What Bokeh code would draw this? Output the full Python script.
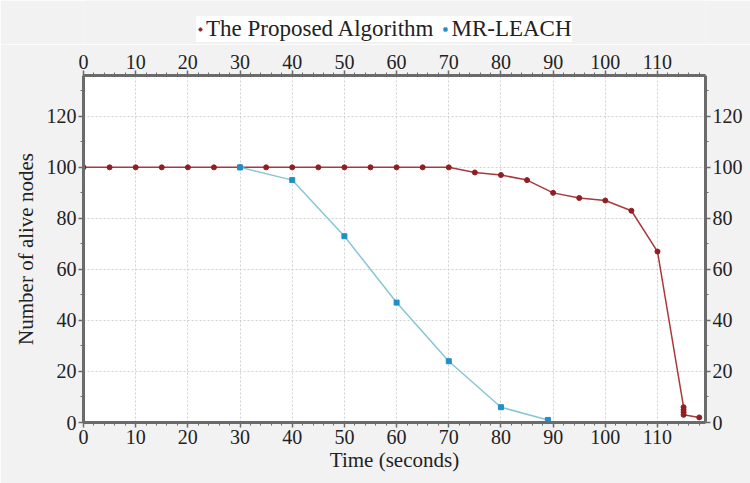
from bokeh.plotting import figure
from bokeh.layouts import column
from bokeh.models import (LinearAxis, Range1d, Legend, LegendItem, SingleIntervalTicker)
from bokeh.embed import file_html
from bokeh.resources import INLINE

# Data
prop_x = [0, 5, 10, 15, 20, 25, 30, 35, 40, 45, 50, 55, 60, 65, 70, 75, 80, 85, 90, 95,
          100, 105, 110, 115, 115, 115, 115, 118]
prop_y = [100, 100, 100, 100, 100, 100, 100, 100, 100, 100, 100, 100, 100, 100, 100, 98, 97, 95, 90, 88,
          87, 83, 67, 6, 5, 4, 3, 2]
mr_x = [30, 40, 50, 60, 70, 80, 89]
mr_y = [100, 95, 73, 47, 24, 6, 1]
series_names = ["The Proposed Algorithm", "MR-LEACH"]

FONT = "Liberation Serif"
RED = "#8f1f22"
RED_LINE = "#a8393c"
BLUE = "#1f8fc8"
BLUE_LINE = "#86c6d6"
AX = "#6b6b6b"
BG = "#f2f2f2"

# ---- legend strip on top ----
lg = figure(width=750, height=44, output_backend="svg", toolbar_location=None,
            x_range=Range1d(0, 1), y_range=Range1d(0, 1),
            x_axis_type=None, y_axis_type=None,
            min_border=0, background_fill_color=BG, border_fill_color=BG,
            outline_line_color=None)
lg.grid.visible = False
d1 = lg.scatter(x=[-5], y=[-5], marker="circle", size=5, color=RED)
d2 = lg.scatter(x=[-5], y=[-5], marker="square", size=5, color=BLUE)
legend = Legend(items=[LegendItem(label=series_names[0], renderers=[d1]),
                       LegendItem(label=series_names[1], renderers=[d2])],
                orientation="horizontal", label_text_font=FONT,
                label_text_font_size="23px", label_text_color="#222222",
                glyph_width=8, glyph_height=18, label_standoff=2, spacing=8, padding=4,
                background_fill_color="white", border_line_color=None,
                margin=0, location=(113, 2))
lg.add_layout(legend, "center")

# ---- main plot ----
p = figure(width=750, height=439, output_backend="svg", toolbar_location=None,
           x_range=Range1d(0, 119.2), y_range=Range1d(0, 136),
           min_border_left=83, min_border_right=45, min_border_top=31, min_border_bottom=61,
           background_fill_color="white", border_fill_color=BG,
           outline_line_color=None)

p.line(prop_x, prop_y, line_color=RED_LINE, line_width=1.5)
p.scatter(prop_x, prop_y, marker="circle", size=5, color=RED)
p.line(mr_x, mr_y, line_color=BLUE_LINE, line_width=1.5)
p.scatter(mr_x, mr_y, marker="square", size=5, color=BLUE)

def style_axis(ax, ticks, minor):
    ax.ticker = SingleIntervalTicker(interval=ticks, num_minor_ticks=minor)
    ax.axis_line_color = AX
    ax.axis_line_width = 3
    ax.major_tick_line_color = AX
    ax.minor_tick_line_color = AX
    ax.major_tick_line_width = 1.5
    ax.major_tick_out = 5
    ax.major_tick_in = 0
    ax.minor_tick_out = 3
    ax.minor_tick_in = 0
    ax.major_label_standoff = 2
    ax.major_label_text_font = FONT
    ax.major_label_text_font_size = "20px"
    ax.major_label_text_color = "#222222"
    ax.axis_label_text_font = FONT
    ax.axis_label_text_font_size = "21px"
    ax.axis_label_text_font_style = "normal"
    ax.axis_label_text_color = "#222222"

style_axis(p.xaxis[0], 10, 5)
style_axis(p.yaxis[0], 20, 2)
p.xaxis[0].axis_label = "Time (seconds)"
p.xaxis[0].axis_label_standoff = 1
p.yaxis[0].axis_label = "Number of alive nodes"
p.yaxis[0].axis_label_standoff = 6

top = LinearAxis()
style_axis(top, 10, 5)
p.add_layout(top, "above")
right = LinearAxis()
style_axis(right, 20, 2)
p.add_layout(right, "right")

p.xgrid.ticker = SingleIntervalTicker(interval=10)
p.ygrid.ticker = SingleIntervalTicker(interval=20)
for g in (p.xgrid[0], p.ygrid[0]):
    g.grid_line_color = "#d0d0d0"
    g.grid_line_dash = "2 2"
    g.grid_line_width = 1

layout = column(lg, p, spacing=0)
open("out.html", "w").write(file_html(layout, INLINE))
